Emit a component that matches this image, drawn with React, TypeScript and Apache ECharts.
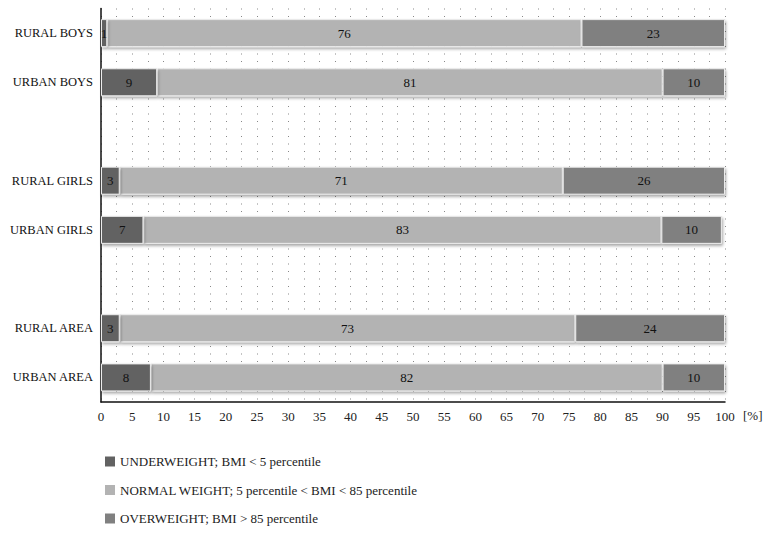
import React, { useEffect, useRef } from "react";
import * as echarts from "echarts";

const categories = ["RURAL BOYS", "URBAN BOYS", " ", "RURAL GIRLS", "URBAN GIRLS", "  ", "RURAL AREA", "URBAN AREA"];
const underweight = [1, 9, null, 3, 6.8, null, 3, 8];
const normal = [76, 81, null, 71, 83, null, 73, 82];
const overweight = [23, 10, null, 26, 9.7, null, 24, 10];
const seriesNames = [
  "UNDERWEIGHT; BMI < 5 percentile",
  "NORMAL WEIGHT; 5 percentile < BMI < 85 percentile",
  "OVERWEIGHT; BMI > 85 percentile",
];
const colors = ["#626262", "#b3b3b3", "#808080"];

const FONT = "'Liberation Serif', 'DejaVu Serif', serif";

export default function App() {
  const ref = useRef<HTMLDivElement>(null);
  useEffect(() => {
    const chart = echarts.init(ref.current!, null, { renderer: "svg" });
    const mk = (name: string, data: (number | null)[], color: string, z: number) => ({
      name,
      type: "bar",
      stack: "total",
      data,
      z,
      barWidth: 28,
      itemStyle: {
        color,
        borderColor: "#ececec",
        borderWidth: 1,
        shadowColor: "rgba(0,0,0,0.35)",
        shadowBlur: 3,
        shadowOffsetX: 1,
        shadowOffsetY: 2,
      },
      label: {
        show: true,
        position: "inside",
        color: "#111",
        fontFamily: FONT,
        fontSize: 13,
        formatter: (p: any) => (p.value == null ? "" : String(Math.round(p.value))),
      },
    });
    chart.setOption({
      animation: false,
      textStyle: { fontFamily: FONT },
      grid: { left: 101, right: 44, top: 8.5, bottom: 131 },
      xAxis: {
        type: "value",
        min: 0,
        max: 100,
        interval: 5,
        axisLine: { show: true, lineStyle: { color: "#111", width: 1.5 } },
        axisTick: { show: false },
        axisLabel: { color: "#222", fontSize: 13, fontFamily: FONT, margin: 8 },
        splitLine: { show: true, lineStyle: { color: "#888", type: [1, 6.5], width: 1 } },
        minorTick: { show: false, splitNumber: 2 },
        minorSplitLine: { show: true, lineStyle: { color: "#888", type: [1, 6.5], width: 1 } },
      },
      yAxis: {
        type: "category",
        data: categories,
        inverse: true,
        axisLine: { show: true, lineStyle: { color: "#111", width: 1.5 } },
        axisTick: { show: false },
        axisLabel: { color: "#111", fontSize: 12.5, fontFamily: FONT, margin: 8 },
        splitLine: { show: false },
      },
      legend: {
        orient: "vertical",
        left: 100,
        top: 450,
        height: 100,
        itemWidth: 10,
        itemHeight: 10,
        itemGap: 15.5,
        itemStyle: { borderWidth: 0 },
        icon: "rect",
        textStyle: { color: "#222", fontSize: 13, fontFamily: FONT },
        data: seriesNames,
      },
      graphic: [
        {
          type: "text",
          left: 743,
          top: 409,
          style: { text: "[%]", fill: "#222", fontSize: 13, fontFamily: FONT },
        },
      ],
      series: [
        mk(seriesNames[0], underweight, colors[0], 4),
        mk(seriesNames[1], normal, colors[1], 2),
        mk(seriesNames[2], overweight, colors[2], 2),
      ],
    });
    return () => chart.dispose();
  }, []);
  return <div ref={ref} style={{ position: "absolute", left: 0, top: 0, width: 769, height: 533 }} />;
}
